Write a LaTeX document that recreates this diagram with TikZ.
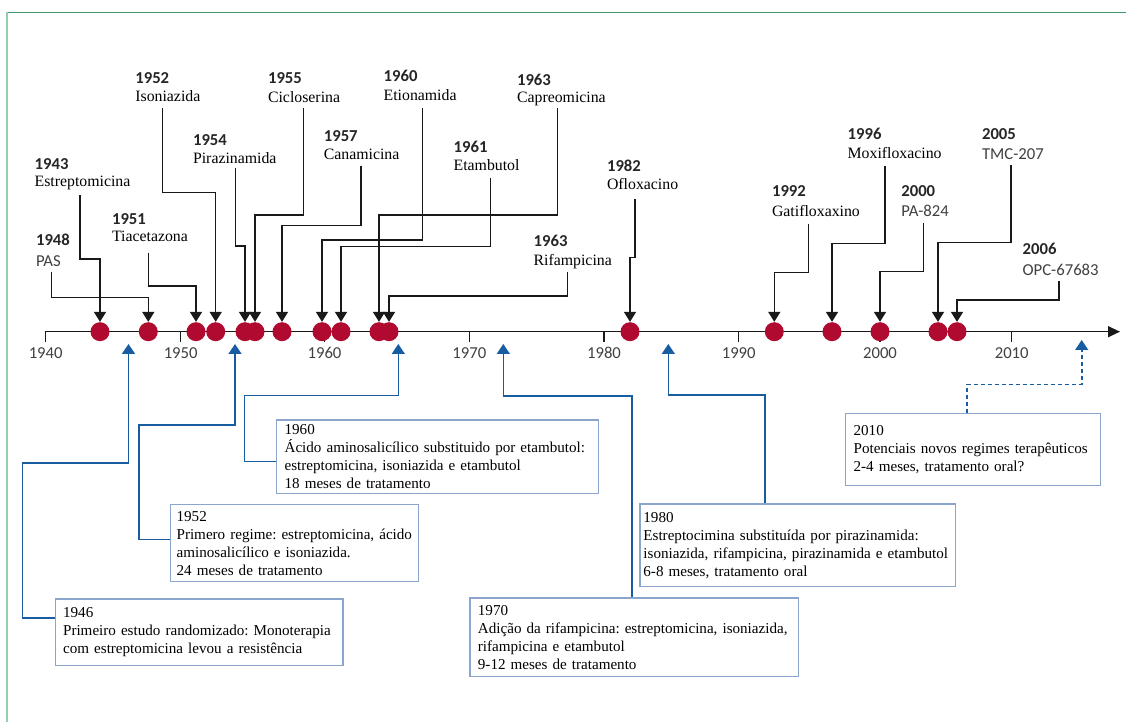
\documentclass[tikz,border=0pt]{standalone}
\usepackage{fontspec}
\setmainfont{Liberation Serif}
\newfontfamily\headfont{Carlito}
\usetikzlibrary{arrows.meta,positioning}
\definecolor{dotred}{RGB}{176,10,48}
\definecolor{regblue}{RGB}{24,92,162}
\definecolor{boxline}{RGB}{140,165,205}
\definecolor{frameline}{RGB}{60,150,105}
\definecolor{framelight}{RGB}{150,205,175}
\definecolor{axistext}{RGB}{64,64,64}
\newcommand\regfont{\fontsize{8.6}{10.24}\selectfont\frenchspacing}
\hyphenpenalty=10000
\tikzset{
  eventdot/.style={circle,fill=dotred,inner sep=0pt,minimum size=0.38cm},
  yearhead/.style={anchor=base west,inner sep=0pt,text=black!85,
    font=\headfont\bfseries\fontsize{9.5}{11}\selectfont},
  drugname/.style={anchor=base west,inner sep=0pt,font=\fontsize{9}{10.5}\selectfont},
  codename/.style={anchor=base west,inner sep=0pt,text=axistext,
    font=\headfont\fontsize{9.5}{11}\selectfont},
  ticklabel/.style={text=axistext,font=\headfont\fontsize{9.5}{11}\selectfont},
  axisline/.style={line width=0.8pt,black!90,-{Triangle[width=0.22cm,length=0.24cm]}},
  tickmark/.style={line width=0.8pt,black!90},
  drugline/.style={line width=0.9pt,black!90,-{Triangle[width=0.24cm,length=0.2cm]}},
  regline/.style={line width=0.9pt,regblue,-{Triangle[width=0.26cm,length=0.2cm]}},
  regbox/.style={draw=boxline,line width=0.7pt,anchor=north west,align=left,
    inner ysep=0pt,font=\regfont}
}

\begin{document}
\begin{tikzpicture}[x=0.02cm,y=-0.02cm]
    \useasboundingbox (0,0) rectangle (1126,722);
    \draw [frameline, line width=0.9pt] (6.7,12.3) -- (1126,12.3);% frame top
    \draw [framelight, line width=1.2pt] (6.7,12.3) -- (6.7,722);% frame left

    \coordinate (AxisStart) at (45.7,331.7);
    \coordinate (AxisEnd)   at (1120,331.7);
    \draw [axisline] (45.7,341.7) -- (AxisStart) -- (AxisEnd);% Draw time axis
    \node [ticklabel] (tk1940) at (45.7,353) {1940};
    \foreach \x/\yr in {180.7/1950,324.5/1960,469.3/1970,604/1980,
                        738.7/1990,880/2000,1011.7/2010}{%
      \draw [tickmark] (\x,331.7) -- (\x,341.7);
      \node [ticklabel] (tk\yr) at (\x,353) {\yr};
    }

          % Drugs: label, dot on the axis and the bent arrow between them
    \foreach \i/\yr/\nm/\st/\lx/\yb/\nb/\sx/\sy/\by/\dx in {
        a/1943/Estreptomicina/drugname/34.3/169.3/187/80/195/259/100,
        b/1948/PAS/codename/35.7/245.3/266.3/51.7/271.7/297.3/148.3,
        c/1951/Tiacetazona/drugname/111.7/224.3/242/148.3/252.7/286/196,
        d/1952/Isoniazida/drugname/135/83.6/101.3/162.7/107.7/192.3/215.7,
        e/1954/Pirazinamida/drugname/192.7/145.3/163.6/235.3/168.3/246/245,
        f/1955/Cicloserina/drugname/267.7/83.6/102.6/303.3/108.3/215/255,
        g/1957/Canamicina/drugname/323.5/141.3/159.6/361/166/225.7/282,
        h/1960/Etionamida/drugname/383.3/82/100.3/422.7/107.7/240/322,
        i/1961/Etambutol/drugname/453.3/152.6/170.3/490.7/178.3/246.7/341,
        j/1963/Capreomicina/drugname/516.7/85.3/102.6/557.7/108.3/215/379,
        k/1963/Rifampicina/drugname/533.3/247/265.3/567.7/271.7/296/389,
        l/1982/Ofloxacino/drugname/606.7/172/189.3/635/199.3/257.3/630,
        m/1992/Gatifloxaxino/drugname/771.7/197/217/808.3/224/272.3/774.3,
        n/1996/Moxifloxacino/drugname/847.3/139.3/158.6/885/166/243.3/832,
        o/2000/PA-824/codename/901/197/217/923.3/223.3/271.7/880,
        p/2005/TMC-207/codename/981.7/139.3/159.3/1010.7/165/242.7/938,
        q/2006/OPC-67683/codename/1022.3/254.6/275.3/1059/280.7/300/957}{%
      \node [eventdot] (d\i) at (\dx,331.7) {};
      \node [yearhead] (y\i) at (\lx,\yb) {\yr};
      \node [\st] (n\i) at (\lx,\nb) {\nm};
      \coordinate (s\i) at (\sx,\sy);
      \coordinate (j\i) at (\dx,\by);
      \draw [drugline] (s\i) |- (j\i) -- (d\i);
    }

          % Treatment regimes below the axis
    \node [regbox, inner xsep=0.16cm, text width=5.44cm, minimum height=1.334cm]
        (b1946) at (54.5,598.3)
        {1946\\Primeiro estudo randomizado: Monoterapia\\com estreptomicina levou a resistência};
    \node [regbox, inner xsep=0.12cm, text width=4.72cm, minimum height=1.54cm]
        (b1952) at (170,504)
        {1952\\Primero regime: estreptomicina, ácido\\aminosalicílico e isoniazida.\\24 meses de tratamento};
    \node [regbox, inner xsep=0.16cm, text width=6.12cm, minimum height=1.468cm]
        (b1960) at (276,419.3)
        {1960\\Ácido aminosalicílico substituido por etambutol:\\estreptomicina, isoniazida e etambutol\\18 meses de tratamento};
    \node [regbox, inner xsep=0.16cm, text width=6.25cm, minimum height=1.574cm]
        (b1970) at (469.3,597.3)
        {1970\\Adição da rifampicina: estreptomicina, isoniazida,\\rifampicina e etambutol\\9-12 meses de tratamento};
    \node [regbox, inner xsep=0.07cm, text width=6.18cm, minimum height=1.654cm]
        (b1980) at (639.3,503.3)
        {1980\\Estreptocimina substituída por pirazinamida:\\isoniazida, rifampicina, pirazinamida e etambutol\\6-8 meses, tratamento oral};
    \node [regbox, inner xsep=0.17cm, text width=4.77cm, minimum height=1.446cm]
        (b2010) at (844.5,412.7)
        {2010\\Potenciais novos regimes terapêuticos\\2-4 meses, tratamento oral?};

    \coordinate (t1946) at (128.5,344);  \coordinate (k1946) at (22.5,463);
    \coordinate (t1952) at (235,344);    \coordinate (k1952) at (139,425);
    \coordinate (t1960) at (398.3,344);  \coordinate (k1960) at (244.3,395.7);
    \coordinate (t1970) at (503.3,344);  \coordinate (k1970) at (503.3,396);
    \coordinate (t1980) at (668.3,344);  \coordinate (k1980) at (668.3,395);
    \coordinate (t2010) at (1081.7,340); \coordinate (k2010) at (1081.7,384.3);
    \draw [regline] ([yshift=0.284cm]b1946.west) -| (k1946) -| (t1946);
    \draw [regline] ([yshift=0.07cm]b1952.west) -| (k1952) -| (t1952);
    \draw [regline] ([yshift=-0.1cm]b1960.west) -| (k1960) -| (t1960);
    \draw [regline] ([xshift=-0.046cm]b1970.north) |- (k1970) -- (t1970);
    \draw [regline] ([xshift=-0.654cm]b1980.north) |- (k1980) -- (t1980);
    \draw [regline, dash pattern=on 0.08cm off 0.06cm]
        ([xshift=-0.117cm]b2010.north) |- (k2010) -- (t2010);% not yet reached
\end{tikzpicture}
\end{document}
